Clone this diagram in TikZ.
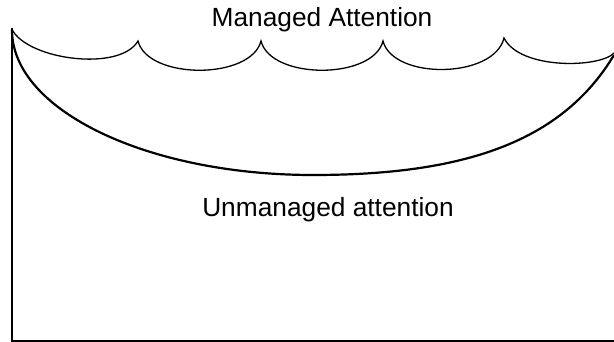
\documentclass[tikz,border=0pt]{standalone}
\usepackage{fontspec}
\setmainfont{Liberation Sans}
\begin{document}
\begin{tikzpicture}[x=1pt,y=-1pt,
  frame/.style={line width=2pt,line cap=rect},
  scallop/.style={line width=1.3pt},
  bowl/.style={line width=2.2pt},
  lbl/.style={anchor=base,inner sep=0pt,font=\fontsize{26.3}{31}\selectfont}]
\useasboundingbox (0,0) rectangle (614,342);
% frame
\coordinate (tl) at (12,29.5);
\coordinate (bl) at (12,340.5);
\coordinate (br) at (614,340.5);
\draw[frame] (tl) -- (bl) -- (br);
% scallops
\coordinate (c0) at (12,29.5);
\coordinate (c1) at (138,41);
\coordinate (c2) at (261,41);
\coordinate (c3) at (383,41);
\coordinate (c4) at (504,38);
\coordinate (c5) at (614,53);
\draw[scallop] (c0) .. controls (28,60) and (120,72) .. (c1)
  .. controls (148,80) and (251,80) .. (c2)
  .. controls (271,80) and (373,80) .. (c3)
  .. controls (393,80) and (494,79) .. (c4)
  .. controls (520,70) and (600,68) .. (c5);
% bowl curve
\coordinate (b0) at (12,30);
\coordinate (bm) at (313,175);
\coordinate (b1) at (614,55);
\draw[bowl] (b0) .. controls (12,110) and (147,175) .. (bm)
  .. controls (463,175) and (561.5,142.5) .. (b1);
% labels
\node[lbl] (managed) at (322,27) {Managed Attention};
\node[lbl] (unmanaged) at (328,217) {Unmanaged attention};
\end{tikzpicture}
\end{document}
